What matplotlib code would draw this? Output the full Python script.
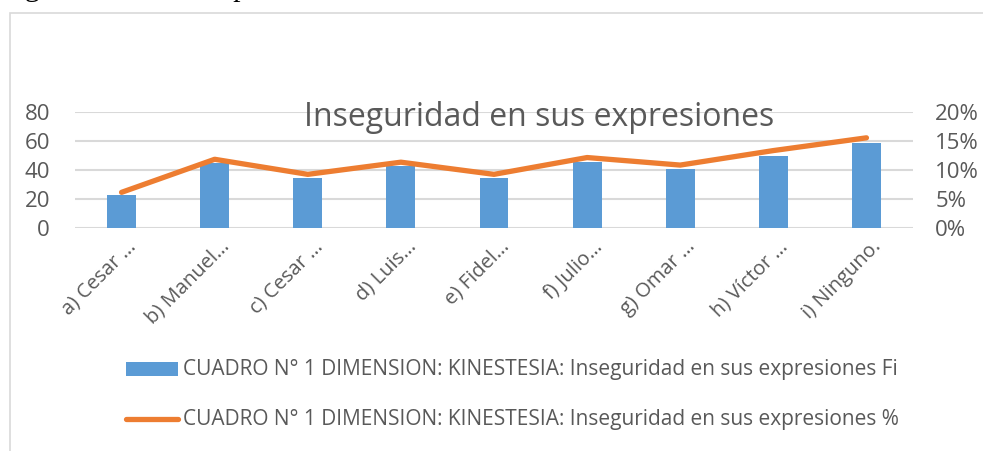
import matplotlib
matplotlib.use("Agg")
import matplotlib.pyplot as plt
import matplotlib.transforms as mtransforms
from matplotlib.patches import Rectangle
from matplotlib.ticker import FuncFormatter, MultipleLocator

categories = ["a) Cesar …", "b) Manuel…", "c) Cesar …", "d) Luis…", "e) Fidel…",
              "f) Julio…", "g) Omar …", "h) Víctor …", "i) Ninguno."]
fi_values = [23, 45, 35, 43, 35, 46, 41, 50, 59]
pct_values = [6.2, 11.9, 9.3, 11.4, 9.3, 12.2, 10.9, 13.4, 15.6]
title = "Inseguridad en sus expresiones"
legend_fi = "CUADRO N° 1 DIMENSION: KINESTESIA: Inseguridad en sus expresiones Fi"
legend_pct = "CUADRO N° 1 DIMENSION: KINESTESIA: Inseguridad en sus expresiones %"

plt.rcParams['font.family'] = ['Open Sans', 'DejaVu Sans']
GRAY = "#595959"
BLUE = "#5B9BD5"
ORANGE = "#ED7D31"
GRID = "#D9D9D9"

W, H = 983, 451
fig = plt.figure(figsize=(W / 100, H / 100), dpi=100)

# surrounding document text (cut off at the top)
fig.text(0 / W, 1 + 4 / H, "seguridad en sus expresiones.", family="Liberation Serif",
         fontsize=21.5, color="black", ha="left", va="baseline")

# chart frame
fig.patches.append(Rectangle((10 / W, -0.1), 1.2, 1 - 13 / H + 0.1, transform=fig.transFigure,
                             fill=False, edgecolor=GRID, linewidth=1.2))

left, right = 75 / W, 913 / W
bottom, top = 1 - 228.3 / H, 1 - 112.3 / H
ax = fig.add_axes([left, bottom, right - left, top - bottom])
ax2 = ax.twinx()

x = list(range(len(categories)))
ax.bar(x, fi_values, width=0.31, color=BLUE, zorder=3)
ax.set_xlim(-0.5, len(categories) - 0.5)
ax.set_ylim(0, 80)
ax.yaxis.set_major_locator(MultipleLocator(20))
ax.grid(axis="y", color=GRID, linewidth=1.5, zorder=0)
ax.set_axisbelow(True)

ax2.plot(x, pct_values, color=ORANGE, linewidth=3.8, solid_capstyle="round",
         solid_joinstyle="round", zorder=4)
ax2.set_ylim(0, 20)
ax2.yaxis.set_major_locator(MultipleLocator(5))
ax2.yaxis.set_major_formatter(FuncFormatter(lambda v, p: f"{v:.0f}%"))

for a in (ax, ax2):
    for s in a.spines.values():
        s.set_visible(False)
    a.tick_params(length=0, labelsize=16, colors=GRAY)
ax.tick_params(axis="y", pad=18)
ax2.tick_params(axis="y", pad=16)

ax.set_xticks(x)
ax.set_xticklabels(categories, rotation=45, ha="right", rotation_mode="anchor",
                   fontsize=14.5, color=GRAY)
ax.tick_params(axis="x", pad=6)
off = mtransforms.ScaledTranslation(5 / 100, 0, fig.dpi_scale_trans)
for lbl in ax.get_xticklabels():
    lbl.set_transform(lbl.get_transform() + off)

fig.text(539 / W, 1 - 117 / H, title, fontsize=23, color=GRAY, ha="center", va="center")

# legend drawn manually
y1 = 1 - 369 / H
y2 = 1 - 419 / H
fig.patches.append(Rectangle((126 / W, y1 - 7 / H), 52 / W, 14 / H, transform=fig.transFigure,
                             facecolor=BLUE, edgecolor="none"))
fig.lines.append(plt.Line2D([126 / W, 178 / W], [y2, y2], transform=fig.transFigure,
                            color=ORANGE, linewidth=3.8, solid_capstyle="round"))
fig.text(183 / W, y1, legend_fi, fontsize=15, color=GRAY, ha="left", va="center")
fig.text(183 / W, y2, legend_pct, fontsize=15, color=GRAY, ha="left", va="center")

fig.savefig("out.png", dpi=100)
